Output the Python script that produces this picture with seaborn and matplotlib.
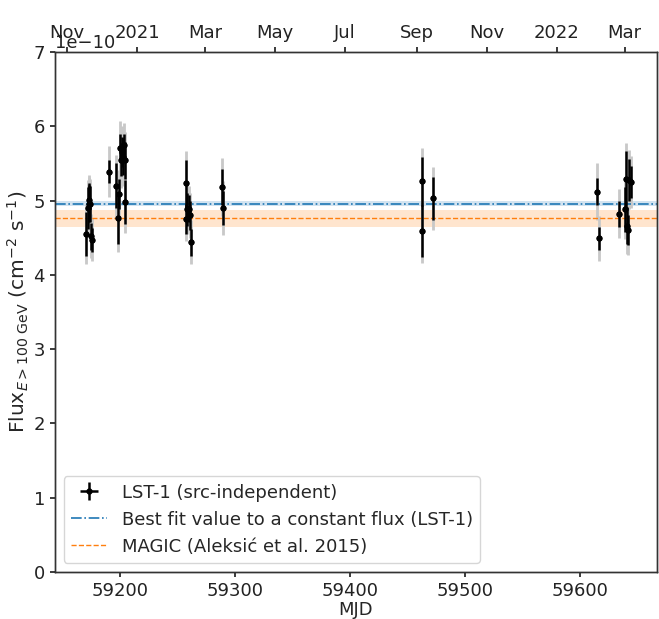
import numpy as np
import pandas as pd
import seaborn as sns
import matplotlib
matplotlib.use("Agg")
import matplotlib.pyplot as plt
import matplotlib.dates as mdates
from matplotlib.ticker import FuncFormatter
from datetime import datetime

# nightly flux points, flux in units of 1e-10 cm^-2 s^-1
mjd = [59171.0, 59172.4, 59173.0, 59173.6, 59174.5, 59175.0, 59176.0,
       59191.0, 59197.1, 59198.3, 59199.1, 59200.3, 59201.4, 59202.0,
       59202.6, 59203.5, 59204.3, 59205.0,
       59257.6, 59258.0, 59258.8, 59260.3, 59261.2, 59262.0, 59289.0, 59290.0,
       59462.3, 59463.0, 59472.0,
       59615.0, 59616.3, 59634.2, 59639.1, 59640.0, 59641.0, 59642.0,
       59642.9, 59644.3]
flux = [4.55, 4.90, 4.96, 5.01, 4.95, 4.52, 4.47,
        5.39, 5.20, 4.76, 5.09, 5.71, 5.55, 5.65,
        5.59, 5.75, 5.54, 4.98,
        4.75, 5.23, 4.88, 4.89, 4.80, 4.44, 5.18, 4.90,
        4.59, 5.26, 5.03,
        5.12, 4.49, 4.82, 4.88, 5.29, 4.66, 4.60,
        5.28, 5.25]
flux_err_stat = [0.30, 0.28, 0.25, 0.22, 0.24, 0.18, 0.16,
                 0.16, 0.30, 0.35, 0.20, 0.18, 0.22, 0.20,
                 0.25, 0.15, 0.25, 0.30,
                 0.20, 0.32, 0.22, 0.18, 0.20, 0.18, 0.24, 0.23,
                 0.35, 0.33, 0.29,
                 0.18, 0.16, 0.17, 0.30, 0.38, 0.25, 0.20,
                 0.28, 0.22]
flux_err_tot = [0.41, 0.38, 0.36, 0.33, 0.34, 0.30, 0.29,
                0.34, 0.42, 0.45, 0.32, 0.36, 0.38, 0.36,
                0.40, 0.30, 0.38, 0.42,
                0.30, 0.44, 0.33, 0.30, 0.30, 0.30, 0.39, 0.36,
                0.43, 0.45, 0.42,
                0.38, 0.30, 0.33, 0.40, 0.48, 0.38, 0.33,
                0.40, 0.35]
mjd_halfwidth = [0.1] * len(mjd)

fit_flux, fit_err = 4.96, 0.04
magic_flux, magic_err = 4.76, 0.11

mjd_min, mjd_max = 59143.5, 59667.0
scale = 1e-10

df = pd.DataFrame({"mjd": mjd, "flux": np.array(flux) * scale,
                   "stat": np.array(flux_err_stat) * scale,
                   "tot": np.array(flux_err_tot) * scale,
                   "dt": mjd_halfwidth})

sns.set_theme(style="ticks")
plt.rcParams["font.family"] = ["DejaVu Sans"]
fs = 13
plt.rcParams.update({"font.size": fs, "axes.labelsize": fs, "xtick.labelsize": fs,
                     "ytick.labelsize": fs, "legend.fontsize": fs,
                     "axes.edgecolor": "#333333", "axes.linewidth": 1.0,
                     "xtick.color": "#222222", "ytick.color": "#222222",
                     "xtick.major.size": 3.5, "ytick.major.size": 3.5,
                     "xtick.major.pad": 3.5, "ytick.major.pad": 3.5,
                     "axes.labelpad": 3.0})

blue = "#1f77b4"
orange = "#ff7f0e"

fig, ax = plt.subplots(figsize=(6.59, 6.19), dpi=100)
fig.subplots_adjust(left=0.083, right=0.997, bottom=0.076, top=0.916)

# total (lighter) and statistical (black) error bars
ax.errorbar(df.mjd, df.flux, yerr=df.tot, fmt="none", ecolor="#c8c8c8", elinewidth=2, zorder=2)
lst = ax.errorbar(df.mjd, df.flux, yerr=df.stat, xerr=df.dt, fmt="o", color="black", ms=3.5,
                  elinewidth=1.8, zorder=3, label="LST-1 (src-independent)")
sns.scatterplot(data=df, x="mjd", y="flux", color="black", s=14, edgecolor="black",
                legend=False, zorder=4, ax=ax)

fit_line = ax.axhline(fit_flux * scale, color=blue, ls="-.", lw=1.2,
                      label="Best fit value to a constant flux (LST-1)")
ax.axhspan((fit_flux - fit_err) * scale, (fit_flux + fit_err) * scale, color=blue, alpha=0.2, lw=0)
magic_line = ax.axhline(magic_flux * scale, color=orange, ls="--", lw=1.0,
                        label="MAGIC (Aleksić et al. 2015)")
ax.axhspan((magic_flux - magic_err) * scale, (magic_flux + magic_err) * scale, color=orange, alpha=0.2, lw=0)

ax.set_xlim(mjd_min, mjd_max)
ax.set_ylim(0, 7e-10)
ax.set_xlabel("MJD", labelpad=1)
ax.set_ylabel(r"Flux$_{E>100\ \mathrm{GeV}}$ (cm$^{-2}$ s$^{-1}$)", fontsize=14.5, labelpad=2)
ax.legend(handles=[lst, fit_line, magic_line], loc="lower left")

# calendar axis on top
mjd0 = mdates.date2num(datetime(1858, 11, 17))
ax2 = ax.twiny()
ax2.set_xlim(mjd0 + mjd_min, mjd0 + mjd_max)
ax2.xaxis.set_major_locator(mdates.MonthLocator(bymonth=[1, 3, 5, 7, 9, 11]))

def month_label(x, pos):
    d = mdates.num2date(x)
    return str(d.year) if d.month == 1 else d.strftime("%b")

ax2.xaxis.set_major_formatter(FuncFormatter(month_label))

fig.savefig("out.png", dpi=100)
